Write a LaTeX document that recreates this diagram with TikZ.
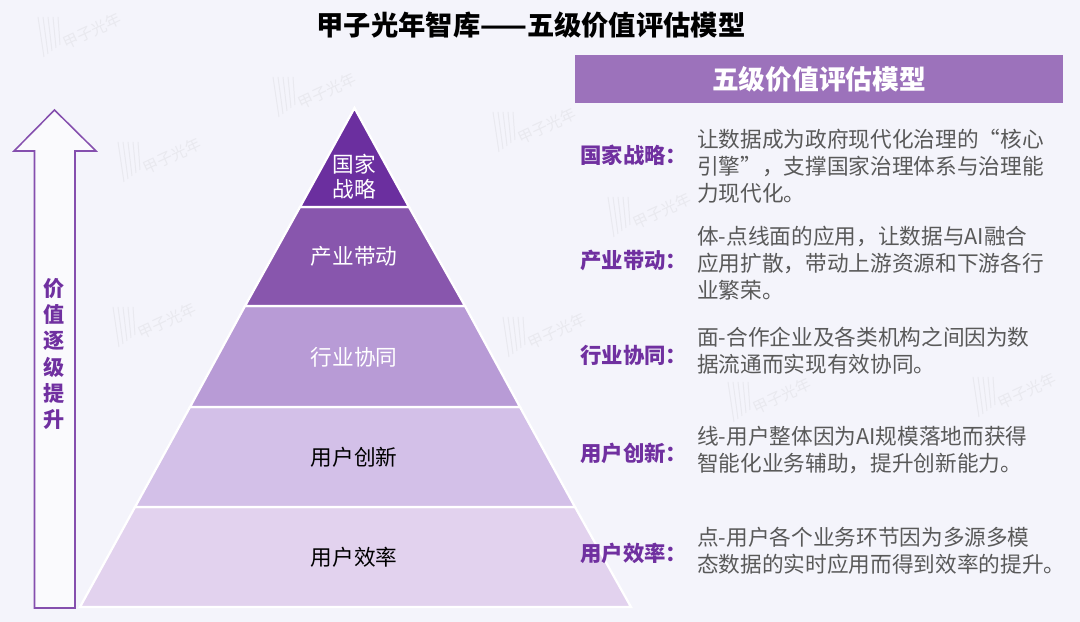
\documentclass[tikz,border=0pt]{standalone}
\usepackage{fontspec}
\setmainfont{Noto Sans CJK SC}
\definecolor{bgcol}{HTML}{F4F4FB}
\definecolor{markcol}{HTML}{E9E9EF}
\definecolor{layera}{HTML}{6B2F9F}
\definecolor{layerb}{HTML}{8856AD}
\definecolor{layerc}{HTML}{B89BD6}
\definecolor{layerd}{HTML}{D3C0E8}
\definecolor{layere}{HTML}{E2D2EE}
\definecolor{headcol}{HTML}{9C72BB}
\definecolor{labelcol}{HTML}{7030A0}
\definecolor{bodycol}{HTML}{595959}
\tikzset{
  layer/.style={draw=white, line width=1.6pt},
  layertext/.style={font=\fontsize{15.4}{19}\selectfont, align=center},
  keytext/.style={anchor=west, text=labelcol, font=\fontsize{15.2}{19}\bfseries\selectfont, inner sep=0pt},
  bodytext/.style={anchor=west, text=bodycol, align=left, font=\fontsize{15.4}{19.2}\selectfont, inner sep=0pt},
  marktext/.style={text=markcol, rotate=25, font=\fontsize{11}{12}\selectfont}
}
\begin{document}
\begin{tikzpicture}[x=0.025cm, y=-0.025cm]
\useasboundingbox (0,0) rectangle (1080,622);
\fill[bgcol] (0,0) rectangle (1080,622);
% watermark
\foreach \mx/\my in {50/35,285/95,130/160,125/325,515/335,505/130,620/215,740/400,985/395}{
  \node[marktext] at (\mx+42,\my-4) {甲子光年};
  \foreach \i in {0,1,2,3,4}
    \draw[markcol, line width=0.7pt] (\mx-12+5*\i,\my-18) -- (\mx-6+4*\i,\my+22-3*\i);
}
% pyramid
\fill[layere, layer] (135,507) -- (575,507) -- (631,607) -- (80,607) -- cycle;
\fill[layerd, layer] (190,407) -- (520,407) -- (575,507) -- (135,507) -- cycle;
\fill[layerc, layer] (245,306) -- (465,306) -- (520,407) -- (190,407) -- cycle;
\fill[layerb, layer] (300,207) -- (409,207) -- (465,306) -- (245,306) -- cycle;
\fill[layera, layer] (354.5,108) -- (409,207) -- (300,207) -- cycle;
\node[layertext, text=white] (guojia) at (354.5,177) {国家\\[-1pt]战略};
\node[layertext, text=white] (chanye) at (354,256) {产业带动};
\node[layertext, text=white] (hangye) at (354,357) {行业协同};
\node[layertext, text=black] (chuangxin) at (354,457) {用户创新};
\node[layertext, text=black] (xiaolv) at (354,557) {用户效率};
% arrow
\draw[labelcol!85!white, line width=1.1pt, fill=bgcol!50!white, line join=miter]
  (54.5,110) -- (96,151) -- (75,151) -- (75,608) -- (34.5,608) -- (34.5,151) -- (14,151) -- cycle;
\node[text=labelcol, align=center, font=\fontsize{15}{18.6}\bfseries\selectfont, inner sep=0pt] (rise) at (54.5,354) {价\\值\\逐\\级\\提\\升};
% title
\node[font=\fontsize{19.4}{23}\bfseries\selectfont, inner sep=0pt] (title) at (531,25) {甲子光年智库——五级价值评估模型};
\node[fill=headcol, text=white, minimum width=12.2cm, minimum height=1.2cm, inner sep=0pt, font=\fontsize{19}{23}\bfseries\selectfont] (head) at (819,79) {五级价值评估模型};
% right column
\node[keytext] (keya) at (580,155) {国家战略：};
\node[keytext] (keyb) at (580,260) {产业带动：};
\node[keytext] (keyc) at (580,355) {行业协同：};
\node[keytext] (keyd) at (580,453) {用户创新：};
\node[keytext] (keye) at (580,553) {用户效率：};
\node[bodytext] (bodya) at (697,166) {让数据成为政府现代化治理的“核心\\引擎”，支撑国家治理体系与治理能\\力现代化。};
\node[bodytext] (bodyb) at (697,263) {体-点线面的应用，让数据与AI融合\\应用扩散，带动上游资源和下游各行\\业繁荣。};
\node[bodytext] (bodyc) at (697,351) {面-合作企业及各类机构之间因为数\\据流通而实现有效协同。};
\node[bodytext] (bodyd) at (697,450) {线-用户整体因为AI规模落地而获得\\智能化业务辅助，提升创新能力。};
\node[bodytext] (bodye) at (697,551) {点-用户各个业务环节因为多源多模\\态数据的实时应用而得到效率的提升。};
\end{tikzpicture}
\end{document}
